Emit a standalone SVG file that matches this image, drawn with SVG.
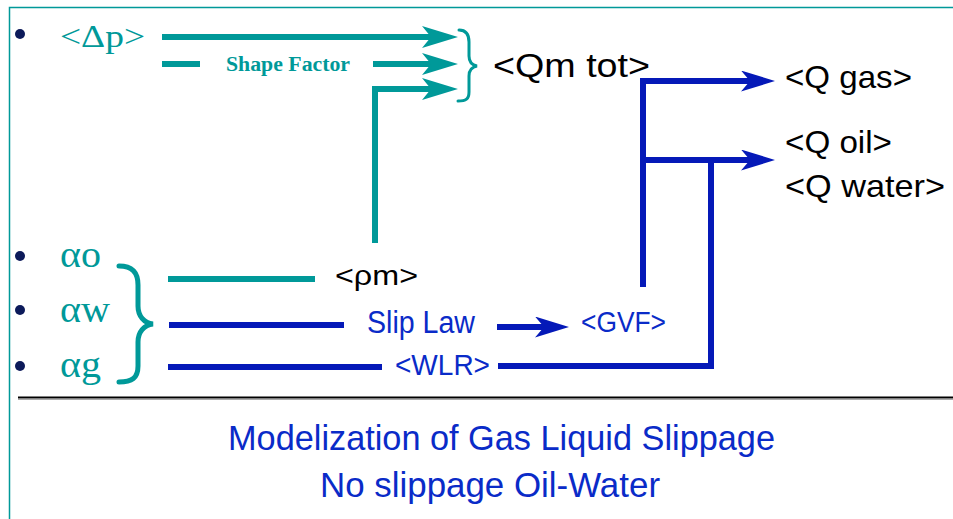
<svg xmlns="http://www.w3.org/2000/svg" width="953" height="519" viewBox="0 0 953 519">
<style>
.teal{stroke:#009999;stroke-width:6;fill:none;stroke-linejoin:miter}
.blue{stroke:#0519b8;stroke-width:6;fill:none;stroke-linejoin:miter}
.brace{stroke:#009999;fill:none;stroke-linecap:round}
.serif{font-family:"Liberation Serif","Times New Roman",serif;fill:#009999}
.sans{font-family:"Liberation Sans",Arial,sans-serif}
.blk{fill:#000}
.bt{fill:#0a2bc8}
.bullet{fill:#0c1a5a}
</style>
<defs>
<marker id="ahT" markerUnits="userSpaceOnUse" viewBox="0 0 36 22" markerWidth="36" markerHeight="22" refX="16" refY="11" orient="auto">
<path d="M0,0 L36,11 L0,22 L9,11 Z" fill="#009999"/>
</marker>
<marker id="ahB" markerUnits="userSpaceOnUse" viewBox="0 0 34 21" markerWidth="34" markerHeight="21" refX="14" refY="10.5" orient="auto">
<path d="M0,0 L34,10.5 L0,21 L9,10.5 Z" fill="#0519b8"/>
</marker>
</defs>
<rect width="953" height="519" fill="#fff"/>
<g id="frame">
<path d="M9.5,519 V7.5 H953" stroke="#009999" stroke-width="1.5" fill="none"/>
<line x1="18" y1="397.5" x2="953" y2="397.5" stroke="#000" stroke-width="2"/>
<line x1="18" y1="399.5" x2="953" y2="399.5" stroke="#aaa" stroke-width="1.2"/>
</g>
<g id="bullets">
<circle class="bullet" cx="20" cy="34" r="5"/>
<circle class="bullet" cx="20" cy="256" r="5"/>
<circle class="bullet" cx="20" cy="310" r="5"/>
<circle class="bullet" cx="20" cy="366" r="5"/>
</g>
<g id="connectors">
<path class="teal" d="M162,37 H438" marker-end="url(#ahT)"/>
<path class="teal" d="M162,64 H200"/>
<path class="teal" d="M373,64 H438" marker-end="url(#ahT)"/>
<path class="teal" d="M375,243 V89 H438" marker-end="url(#ahT)"/>
<path class="teal" d="M168,279 H315"/>
<path class="blue" d="M169,325 H344"/>
<path class="blue" d="M497,327 H549" marker-end="url(#ahB)"/>
<path class="blue" d="M168,367 H382"/>
<path class="blue" d="M498,366 H711 V160"/>
<path class="blue" d="M643,287 V81 H755" marker-end="url(#ahB)"/>
<path class="blue" d="M643,160 H755" marker-end="url(#ahB)"/>
</g>
<g id="brace-top">
<path class="brace" stroke-width="3" d="M459,30 C466,30 469,34 469,42 L469,56 C469,62 472,65 477,66 C472,67 469,70 469,76 L469,92 C469,99 466,101 458,101"/>
</g>
<g id="brace-alpha">
<path class="brace" stroke-width="5" d="M119,266 C132,266 138,272 138,285 L138,306 C138,316 144,323 153,324 C144,325 138,332 138,342 L138,366 C138,378 132,382 119,382"/>
</g>
<g id="node-dp"><text class="serif" x="60" y="47" font-size="32" textLength="85" lengthAdjust="spacingAndGlyphs">&lt;Δp&gt;</text></g>
<g id="node-shape"><text class="serif" x="226" y="71" font-size="20" font-weight="bold" textLength="124" lengthAdjust="spacingAndGlyphs">Shape Factor</text></g>
<g id="node-qmtot"><text class="sans blk" x="493" y="77" font-size="33" textLength="157" lengthAdjust="spacingAndGlyphs">&lt;Qm tot&gt;</text></g>
<g id="node-qgas"><text class="sans blk" x="785" y="88" font-size="32" textLength="127" lengthAdjust="spacingAndGlyphs">&lt;Q gas&gt;</text></g>
<g id="node-qoil"><text class="sans blk" x="785" y="153" font-size="32" textLength="107" lengthAdjust="spacingAndGlyphs">&lt;Q oil&gt;</text></g>
<g id="node-qwater"><text class="sans blk" x="785" y="197" font-size="32" textLength="160" lengthAdjust="spacingAndGlyphs">&lt;Q water&gt;</text></g>
<g id="node-ao"><text class="serif" x="60" y="267" font-size="37" textLength="41" lengthAdjust="spacingAndGlyphs">αo</text></g>
<g id="node-aw"><text class="serif" x="60" y="322" font-size="37" textLength="50" lengthAdjust="spacingAndGlyphs">αw</text></g>
<g id="node-ag"><text class="serif" x="60" y="377" font-size="37" textLength="41" lengthAdjust="spacingAndGlyphs">αg</text></g>
<g id="node-rhom"><text class="sans blk" x="335" y="285" font-size="28" textLength="83" lengthAdjust="spacingAndGlyphs">&lt;ρm&gt;</text></g>
<g id="node-slip"><text class="sans bt" x="367" y="333" font-size="31" textLength="108" lengthAdjust="spacingAndGlyphs">Slip Law</text></g>
<g id="node-gvf"><text class="sans bt" x="581" y="332" font-size="30" textLength="85" lengthAdjust="spacingAndGlyphs">&lt;GVF&gt;</text></g>
<g id="node-wlr"><text class="sans bt" x="395" y="375" font-size="30" textLength="95" lengthAdjust="spacingAndGlyphs">&lt;WLR&gt;</text></g>
<g id="caption">
<text class="sans bt" x="228" y="450" font-size="35" textLength="547" lengthAdjust="spacingAndGlyphs">Modelization of Gas Liquid Slippage</text>
<text class="sans bt" x="320" y="497" font-size="35" textLength="340" lengthAdjust="spacingAndGlyphs">No slippage Oil-Water</text>
</g>
</svg>
